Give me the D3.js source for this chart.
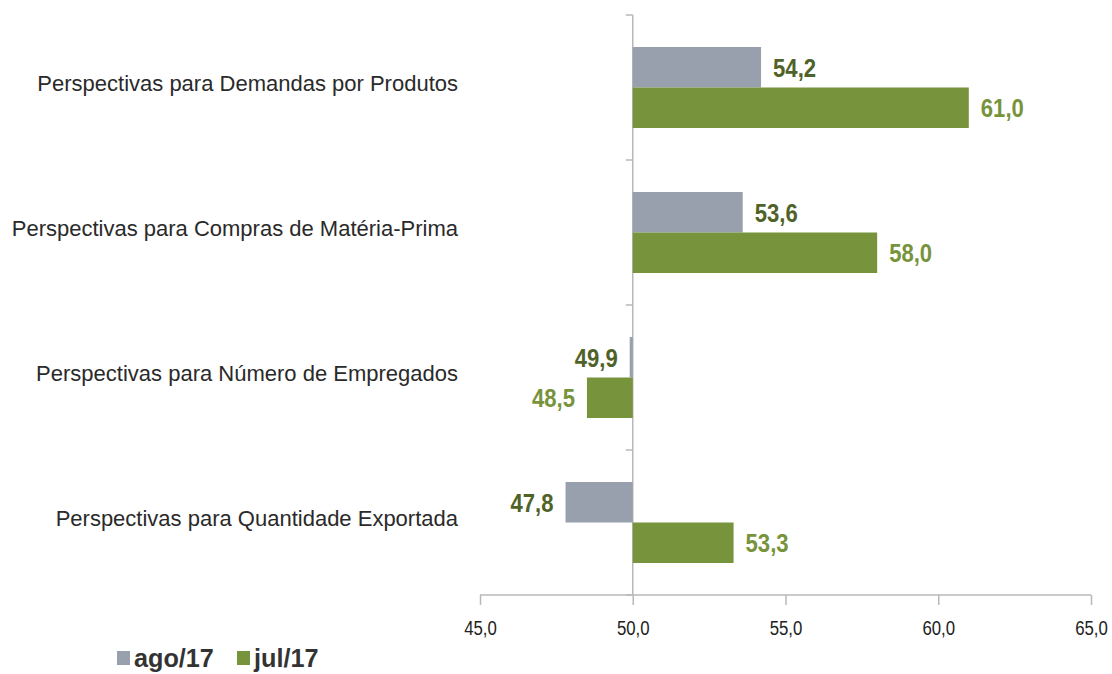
<!DOCTYPE html>
<html>
<head>
<meta charset="utf-8">
<script src="https://cdn.jsdelivr.net/npm/d3@7"></script>
<style>
 body { margin:0; background:#fff; }
 svg { display:block; }
</style>
</head>
<body>
<script>
var categories = ["Perspectivas para Demandas por Produtos",
                  "Perspectivas para Compras de Matéria-Prima",
                  "Perspectivas para Número de Empregados",
                  "Perspectivas para Quantidade Exportada"];
var seriesNames = ["ago/17", "jul/17"];
var ago17 = [54.2, 53.6, 49.9, 47.8];
var jul17 = [61.0, 58.0, 48.5, 53.3];
var xTicks = [45, 50, 55, 60, 65];

var barColors = ["#98a0ad", "#77933c"];
var labelColors = ["#4f6228", "#77933c"];
var fmt = function(v) { return d3.format(".1f")(v).replace(".", ","); };
var font = "'Liberation Sans',Arial,sans-serif";

// squeeze text a bit, the original uses a condensed face
function narrow(sel, k) {
 sel.each(function() {
  var w = this.getComputedTextLength();
  d3.select(this).attr("textLength", w * k).attr("lengthAdjust","spacingAndGlyphs");
 });
}

var svg = d3.select("body").append("svg").attr("width",1112).attr("height",674);

var x = d3.scaleLinear().domain([45,65]).range([480,1091]);
var y = d3.scaleBand().domain(categories).range([15,595]);
var inner = d3.scaleBand().domain(seriesNames).range([0, 81]);
var pad = (y.bandwidth() - 81) / 2;

/* category axis at 50 */
svg.append("line").attr("x1",x(50)).attr("x2",x(50)).attr("y1",15).attr("y2",595)
 .attr("stroke","#b8b8b8").attr("stroke-width",1.5);
var bounds = [15].concat(categories.map(function(c) { return y(c) + y.bandwidth(); }));
svg.selectAll("line.ctick").data(bounds).enter().append("line").attr("class","ctick")
 .attr("x1",x(50)-7).attr("x2",x(50)).attr("y1",function(d){return d;}).attr("y2",function(d){return d;})
 .attr("stroke","#b8b8b8").attr("stroke-width",1.5);

/* value axis */
var xAxis = svg.append("g").attr("transform","translate(0,595)")
 .call(d3.axisBottom(x).tickValues(xTicks).tickFormat(fmt).tickSize(10).tickPadding(12));
xAxis.select(".domain").attr("stroke","#b8b8b8").attr("stroke-width",1.5).attr("d","M480,0H1091");
xAxis.selectAll(".tick line").attr("stroke","#b8b8b8").attr("stroke-width",1.5);
xAxis.selectAll(".tick text").attr("fill","#222").attr("font-size",21).attr("font-family",font)
 .attr("y",40).attr("dy",0).attr("transform","scale(0.8,1)");

/* category labels */
svg.selectAll("text.cat").data(categories).enter().append("text").attr("class","cat")
 .attr("x",458).attr("y",function(d){ return y(d) + y.bandwidth()/2 + 3.5; })
 .attr("text-anchor","end")
 .attr("font-family",font).attr("font-size",22)
 .attr("fill","#2a2a2a").text(function(d){ return d; });

var series = [ago17, jul17];
series.forEach(function(vals, s) {
 var g = svg.append("g");
 g.selectAll("rect").data(vals).enter().append("rect")
  .attr("x",function(d){ return x(Math.min(d,50)); })
  .attr("width",function(d){ return Math.abs(x(d)-x(50)); })
  .attr("y",function(d,i){ return y(categories[i]) + pad + inner(seriesNames[s]); })
  .attr("height",inner.bandwidth())
  .attr("fill",barColors[s]);
 g.selectAll("text").data(vals).enter().append("text")
  .attr("x",function(d){ return d >= 50 ? x(d)+12 : x(d)-12; })
  .attr("y",function(d,i){ return y(categories[i]) + pad + inner(seriesNames[s]) + inner.bandwidth()/2 + 9.5; })
  .attr("text-anchor",function(d){ return d >= 50 ? "start" : "end"; })
  .attr("font-family",font)
  .attr("font-weight","bold").attr("font-size",26)
  .attr("fill",labelColors[s]).text(fmt).call(narrow, 0.85);
});

/* legend */
var leg = svg.append("g").attr("transform","translate(117,651)");
seriesNames.forEach(function(n, i) {
 var lx = i * 120;
 leg.append("rect").attr("x",lx).attr("y",0).attr("width",13).attr("height",14).attr("fill",barColors[i]);
 leg.append("text").attr("x",lx+17).attr("y",16)
  .attr("font-family",font)
  .attr("font-weight","bold").attr("font-size",26).attr("fill","#333").text(n).call(narrow, 0.97);
});
</script>
</body>
</html>
